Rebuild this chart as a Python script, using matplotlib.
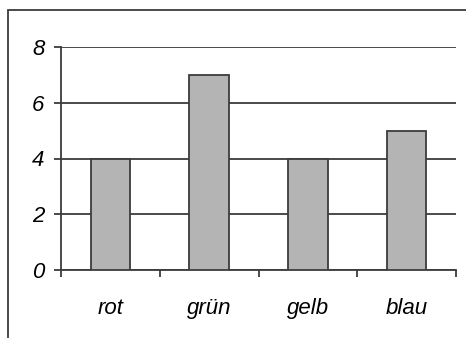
import matplotlib.pyplot as plt
from matplotlib.patches import Rectangle

categories = ["rot", "grün", "gelb", "blau"]
values = [4, 7, 4, 5]
yticks = [0, 2, 4, 6, 8]

line_col = "#3c3c3c"
bar_col = "#b4b4b4"

plt.rcParams["font.family"] = ["Liberation Sans", "DejaVu Sans"]

fig = plt.figure(figsize=(4.66, 3.38), dpi=100)
# outer frame, open to the right and bottom like the cropped original
fig.patches.append(Rectangle((8 / 466, -0.1), 1.2, 1 - 10 / 338 + 0.1,
                             transform=fig.transFigure, fill=False,
                             edgecolor=line_col, linewidth=1.3))

ax = fig.add_axes([61 / 466, 1 - 270 / 338, (456 - 61) / 466, (270 - 47) / 338])

x = list(range(len(categories)))
ax.bar(x, values, width=0.4, color=bar_col, edgecolor=line_col,
       linewidth=1.3, zorder=3)

ax.set_xlim(-0.5, len(categories) - 0.5)
ax.set_ylim(0, 8)
ax.set_yticks(yticks)
ax.set_yticklabels([str(v) for v in yticks], fontstyle="italic", fontsize=16)
ax.yaxis.grid(True, color=line_col, linewidth=1.3, zorder=1)

ax.set_xticks(x)
ax.set_xticklabels(categories, fontstyle="italic", fontsize=16)
ax.set_xticks([i - 0.5 for i in range(len(categories) + 1)], minor=True)
ax.tick_params(axis="x", which="major", length=0, pad=20)
ax.tick_params(axis="x", which="minor", length=5, width=1.3, color=line_col)
ax.tick_params(axis="y", length=5, width=1.3, color=line_col, pad=7)

for s in ["top", "right"]:
    ax.spines[s].set_visible(False)
for s in ["left", "bottom"]:
    ax.spines[s].set_color(line_col)
    ax.spines[s].set_linewidth(1.3)

fig.savefig("out.png", dpi=100)
